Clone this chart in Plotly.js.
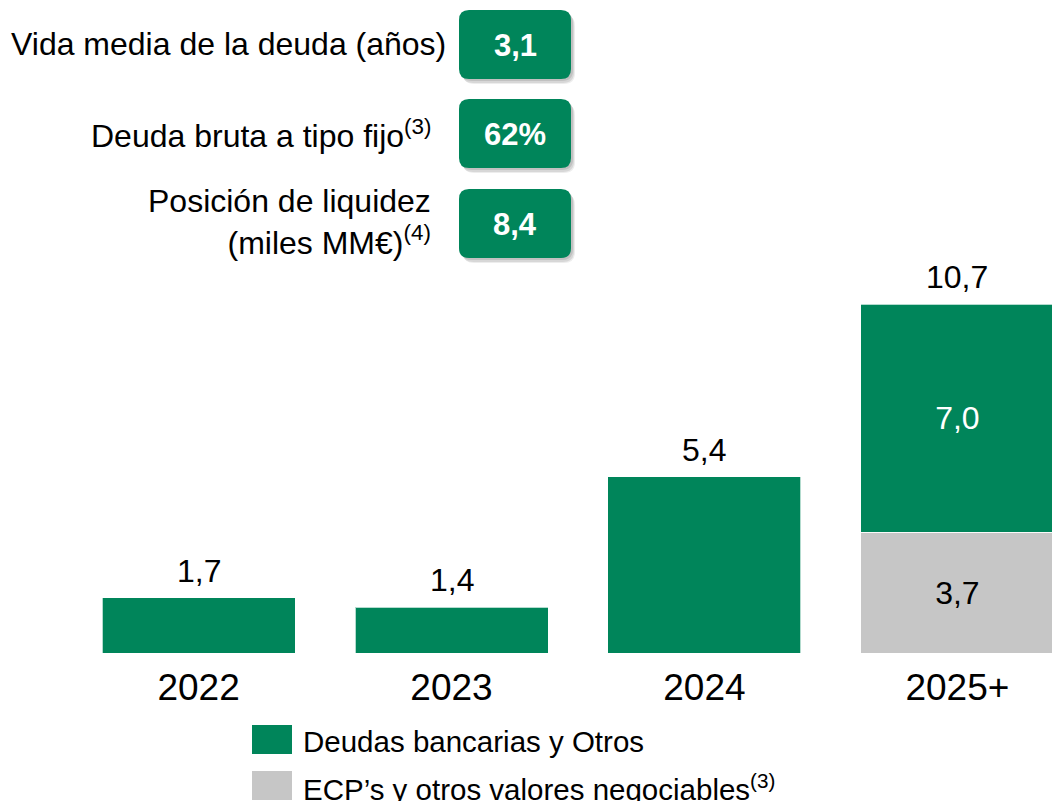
<!DOCTYPE html>
<html>
<head>
<meta charset="utf-8">
<script src="https://cdn.plot.ly/plotly-3.0.1.min.js"></script>
<style>html,body{margin:0;padding:0;background:#fff;}#chart{width:1052px;height:801px;}</style>
</head>
<body>
<div id="chart"></div>
<script>
// ---- data ----
const categories = ['2022', '2023', '2024', '2025+'];
const deudasBancarias = [1.7, 1.4, 5.4, 7.0];
const ecpValores = [null, null, null, 3.7];
const seriesNames = ['Deudas bancarias y Otros', 'ECP\u2019s y otros valores negociables<sup>(3)</sup>'];
const kpiLabels = ['Vida media de la deuda (años)', 'Deuda bruta a tipo fijo<sup>(3)</sup>', 'Posición de liquidez<br>(miles MM€)<sup>(4)</sup>'];
const kpiValues = ['3,1', '62%', '8,4'];

// ---- styling / geometry ----
const GREEN = '#00855A';
const GREY = '#C6C6C6';
const W = 1052, H = 801, MB = 148, PH = H - MB;
const FONT = 'Liberation Sans, Arial, Helvetica, sans-serif';
const px = x => x / W;
const py = y => (PH - y) / PH;

function roundRect(x0, y0, x1, y1, r) {
  const a = px(x0), b = px(x1), t = py(y0), u = py(y1);
  const rx = r / W, ry = r / PH;
  return `M ${a + rx} ${t} L ${b - rx} ${t} Q ${b} ${t} ${b} ${t - ry} L ${b} ${u + ry} Q ${b} ${u} ${b - rx} ${u} L ${a + rx} ${u} Q ${a} ${u} ${a} ${u + ry} L ${a} ${t - ry} Q ${a} ${t} ${a + rx} ${t} Z`;
}

const fmt = v => v.toFixed(1).replace('.', ',');
const totals = categories.map((c, i) => (deudasBancarias[i] || 0) + (ecpValores[i] || 0));
const stacked = categories.map((c, i) => ecpValores[i] != null);

const traces = [
  {
    type: 'bar', name: seriesNames[1], x: categories, y: ecpValores,
    marker: {color: GREY, line: {color: 'rgba(255,255,255,0.7)', width: 1}},
    texttemplate: '%{y:.1f}',
    textposition: stacked.map(s => s ? 'inside' : 'none'), insidetextanchor: 'middle',
    insidetextfont: {color: '#000', size: 32, family: FONT},
    hoverinfo: 'skip'
  },
  {
    type: 'bar', name: seriesNames[0], x: categories, y: deudasBancarias,
    marker: {color: GREEN, line: {color: 'rgba(255,255,255,0.7)', width: 1}},
    texttemplate: '%{y:.1f}',
    textposition: stacked.map(s => s ? 'inside' : 'none'), insidetextanchor: 'middle',
    insidetextfont: {color: '#fff', size: 32, family: FONT},
    hoverinfo: 'skip'
  }
];

const shapes = [];
const annotations = [];

// totals above bars (x given as category index so numeric-looking names are not misread)
categories.forEach((c, i) => {
  annotations.push({
    x: i, y: totals[i], xref: 'x', yref: 'y', text: fmt(totals[i]),
    showarrow: false, yanchor: 'bottom', yshift: 7,
    font: {size: 32, color: '#000', family: FONT}
  });
});

// KPI boxes
const boxTops = [10, 99, 189];
const labelY = [44, 134, 222];
kpiValues.forEach((v, i) => {
  const t = boxTops[i], b = t + 69;
  [[4, 5, 0.07], [3, 4, 0.09], [2, 2, 0.10]].forEach(([dx, dy, op]) => {
    shapes.push({type: 'path', xref: 'paper', yref: 'paper', path: roundRect(459 + dx, t + dy, 571 + dx, b + dy, 11),
      fillcolor: `rgba(0,0,0,${op})`, line: {width: 0}, layer: 'above'});
  });
  shapes.push({type: 'path', xref: 'paper', yref: 'paper', path: roundRect(459, t, 571, b, 10),
    fillcolor: GREEN, line: {width: 0}, layer: 'above'});
  annotations.push({
    x: px(515), y: py((t + b) / 2 + 1), xref: 'paper', yref: 'paper', text: '<b>' + v + '</b>',
    showarrow: false, xanchor: 'center', yanchor: 'middle',
    font: {size: 31, color: '#fff', family: FONT}
  });
  annotations.push({
    x: px(i === 0 ? 448 : 433), y: py(labelY[i]), xref: 'paper', yref: 'paper', text: kpiLabels[i],
    showarrow: false, xanchor: 'right', yanchor: 'middle', align: 'right',
    font: {size: 32, color: '#000', family: FONT}
  });
});

// legend
const legendRows = [{name: seriesNames[0], color: GREEN, top: 725}, {name: seriesNames[1], color: GREY, top: 771}];
legendRows.forEach(r => {
  shapes.push({type: 'rect', xref: 'paper', yref: 'paper', x0: px(252), x1: px(292), y0: py(r.top), y1: py(r.top + 29),
    fillcolor: r.color, line: {width: 0}});
  annotations.push({
    x: px(301), y: py(r.top + 16), xref: 'paper', yref: 'paper', text: r.name,
    showarrow: false, xanchor: 'left', yanchor: 'middle',
    font: {size: 29.5, color: '#000', family: FONT}
  });
});

const layout = {
  width: W, height: H,
  margin: {l: 0, r: 0, t: 0, b: MB, pad: 0},
  paper_bgcolor: '#fff', plot_bgcolor: '#fff',
  barmode: 'stack', bargap: 0.237,
  separators: ',.',
  showlegend: false,
  font: {family: FONT, color: '#000'},
  xaxis: {
    type: 'category', range: [-0.785, 3.374], showgrid: false, zeroline: false, showline: false,
    ticks: '', tickfont: {size: 37, color: '#000', family: FONT}, ticklabelstandoff: 9, fixedrange: true
  },
  yaxis: {range: [0, PH / 32.6], visible: false, showgrid: false, zeroline: false, fixedrange: true},
  shapes: shapes,
  annotations: annotations
};

Plotly.newPlot('chart', traces, layout, {displayModeBar: false, staticPlot: true});
</script>
</body>
</html>
